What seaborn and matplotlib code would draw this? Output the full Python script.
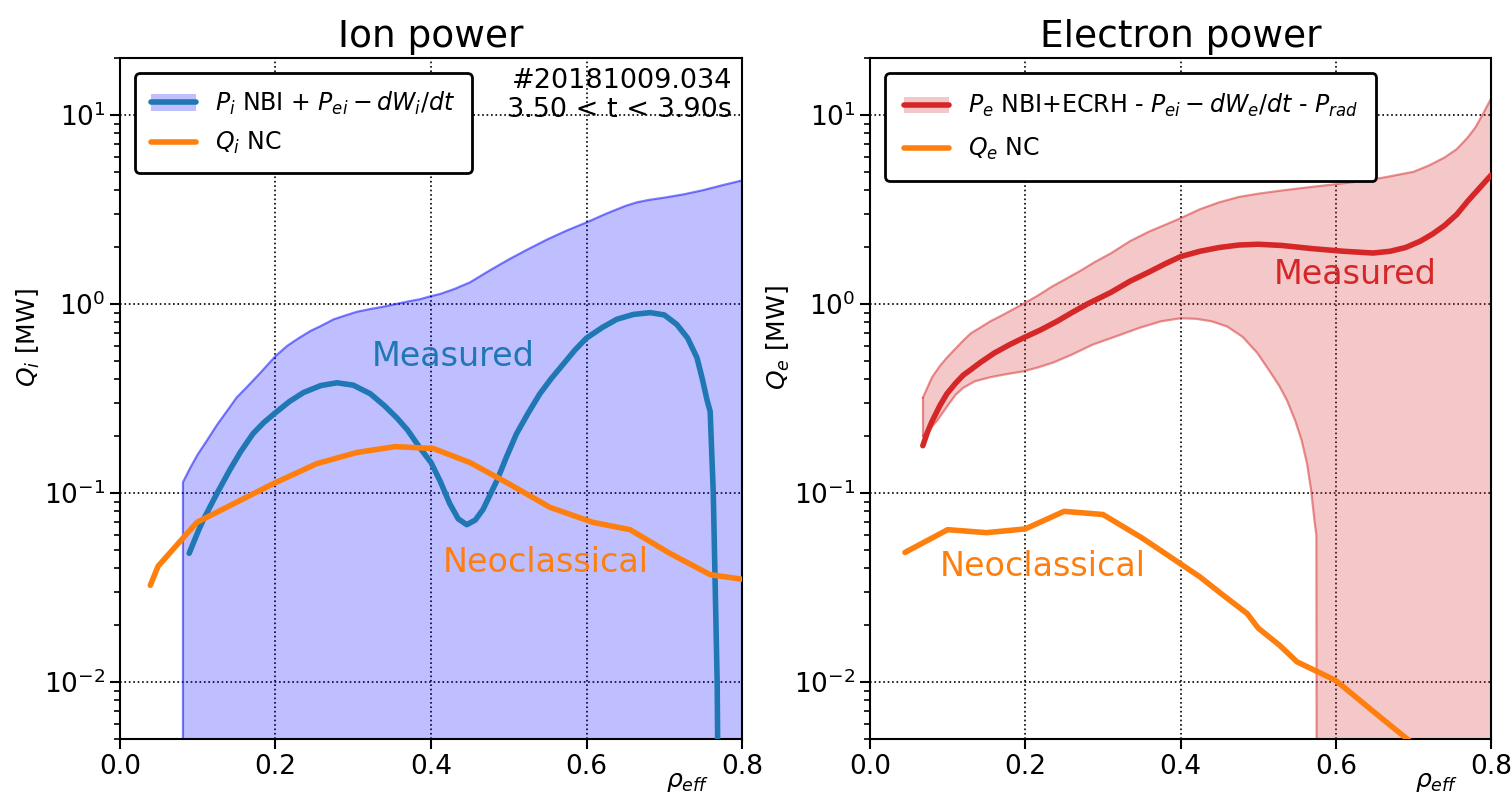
import numpy as np
import pandas as pd
import matplotlib
matplotlib.use("Agg")
import matplotlib.pyplot as plt
import seaborn as sns
from matplotlib.patches import Patch
from matplotlib.lines import Line2D

# ---------------- data ----------------
# Ion panel
ion_env_x = [0.081, 0.09, 0.1, 0.112, 0.125, 0.14, 0.15, 0.165, 0.18, 0.2, 0.215, 0.23, 0.245,
             0.257, 0.275, 0.29, 0.305, 0.322, 0.34, 0.355, 0.37, 0.386, 0.4, 0.412, 0.43,
             0.45, 0.475, 0.5, 0.525, 0.55, 0.575, 0.6, 0.625, 0.65, 0.665, 0.68, 0.7,
             0.725, 0.75, 0.775, 0.8]
ion_env_hi = [0.114, 0.135, 0.16, 0.19, 0.23, 0.28, 0.32, 0.37, 0.43, 0.53, 0.6, 0.66, 0.72,
              0.76, 0.83, 0.87, 0.91, 0.94, 0.97, 1.0, 1.03, 1.06, 1.1, 1.13, 1.2,
              1.3, 1.5, 1.72, 1.95, 2.2, 2.45, 2.7, 3.0, 3.3, 3.45, 3.55, 3.65,
              3.8, 4.0, 4.25, 4.5]
ion_env_lo = [1e-5] * len(ion_env_x)

ion_meas_x = [0.089, 0.1, 0.107, 0.125, 0.141, 0.155, 0.171, 0.185, 0.2, 0.218, 0.236, 0.258,
              0.279, 0.3, 0.322, 0.34, 0.356, 0.37, 0.385, 0.40, 0.412, 0.424, 0.435, 0.446,
              0.457, 0.467, 0.476, 0.485, 0.497, 0.51, 0.525, 0.54, 0.555, 0.57, 0.585, 0.6,
              0.62, 0.639, 0.66, 0.682, 0.70, 0.716, 0.73, 0.742, 0.749, 0.755, 0.759,
              0.763, 0.768, 0.770]
ion_meas_y = [0.048, 0.062, 0.072, 0.10, 0.132, 0.165, 0.206, 0.236, 0.266, 0.305, 0.34, 0.37,
              0.383, 0.372, 0.335, 0.29, 0.25, 0.215, 0.175, 0.145, 0.115, 0.088, 0.073, 0.068,
              0.072, 0.082, 0.098, 0.117, 0.155, 0.206, 0.265, 0.335, 0.405, 0.48, 0.57, 0.66,
              0.75, 0.83, 0.88, 0.9, 0.875, 0.78, 0.66, 0.52, 0.40, 0.31, 0.27,
              0.1, 0.01, 0.001]

ion_nc_x = [0.039, 0.049, 0.099, 0.197, 0.253, 0.305, 0.354, 0.403, 0.45, 0.5, 0.553, 0.608,
            0.656, 0.707, 0.759, 0.8]
ion_nc_y = [0.0325, 0.041, 0.07, 0.112, 0.143, 0.164, 0.176, 0.172, 0.145, 0.112, 0.084, 0.07,
            0.064, 0.048, 0.037, 0.035]

# Electron panel
el_hi_x = [0.068, 0.08, 0.09, 0.099, 0.11, 0.12, 0.13, 0.142, 0.155, 0.17, 0.185, 0.197,
           0.215, 0.235, 0.25, 0.27, 0.29, 0.31, 0.335, 0.36, 0.38, 0.4, 0.425, 0.45,
           0.475, 0.5, 0.53, 0.56, 0.6, 0.63, 0.66, 0.7, 0.72, 0.74, 0.756, 0.77, 0.78,
           0.79, 0.8]
el_hi_y = [0.319, 0.41, 0.47, 0.52, 0.58, 0.64, 0.7, 0.75, 0.81, 0.87, 0.94, 1.0,
           1.1, 1.24, 1.34, 1.49, 1.67, 1.85, 2.15, 2.42, 2.62, 2.84, 3.17, 3.45,
           3.68, 3.83, 3.98, 4.12, 4.3, 4.45, 4.65, 5.0, 5.4, 5.95, 6.6, 7.6, 8.6,
           10.2, 12.2]
el_lo_x = [0.068, 0.075, 0.086, 0.1, 0.11, 0.12, 0.135, 0.155, 0.175, 0.197, 0.215, 0.236,
           0.26, 0.287, 0.315, 0.348, 0.375, 0.4, 0.42, 0.44, 0.46, 0.48, 0.499, 0.515,
           0.527, 0.537, 0.548, 0.556, 0.563, 0.568, 0.573, 0.575, 0.576, 0.8]
el_lo_y = [0.2, 0.215, 0.24, 0.29, 0.33, 0.36, 0.39, 0.41, 0.425, 0.44, 0.46, 0.49,
           0.54, 0.61, 0.67, 0.75, 0.81, 0.84, 0.835, 0.81, 0.76, 0.67, 0.55, 0.44,
           0.37, 0.31, 0.24, 0.19, 0.143, 0.105, 0.069, 0.06, 1e-5, 1e-5]

el_meas_x = [0.068, 0.074, 0.08, 0.09, 0.099, 0.11, 0.12, 0.13, 0.142, 0.16, 0.18, 0.197,
             0.22, 0.241, 0.26, 0.28, 0.31, 0.335, 0.36, 0.38, 0.4, 0.425, 0.45, 0.475,
             0.5, 0.53, 0.571, 0.61, 0.648, 0.67, 0.69, 0.709, 0.725, 0.74, 0.756, 0.77,
             0.785, 0.8]
el_meas_y = [0.178, 0.21, 0.24, 0.29, 0.335, 0.38, 0.42, 0.45, 0.49, 0.55, 0.61, 0.66,
             0.73, 0.81, 0.9, 1.0, 1.15, 1.32, 1.48, 1.63, 1.78, 1.9, 1.99, 2.05,
             2.07, 2.04, 1.96, 1.9, 1.86, 1.9, 1.99, 2.15, 2.35, 2.6, 2.98, 3.5,
             4.1, 4.8]

el_nc_x = [0.045, 0.1, 0.15, 0.2, 0.25, 0.3, 0.35, 0.39, 0.425, 0.454, 0.486, 0.5, 0.528,
           0.55, 0.6, 0.65, 0.7]
el_nc_y = [0.0485, 0.064, 0.0617, 0.0646, 0.080, 0.077, 0.058, 0.045, 0.036, 0.029, 0.023,
           0.0193, 0.0156, 0.0128, 0.0102, 0.0069, 0.0047]

xticks = [0.0, 0.2, 0.4, 0.6, 0.8]
titles = ["Ion power", "Electron power"]
ylabels = [r"$Q_i$ [MW]", r"$Q_e$ [MW]"]
ion_labels = [r"$P_i$ NBI + $P_{ei} - dW_i/dt$", r"$Q_i$ NC"]
el_labels = [r"$P_e$ NBI+ECRH - $P_{ei} - dW_e/dt$ - $P_{rad}$", r"$Q_e$ NC"]
shot_text = "#20181009.034\n3.50 < t < 3.90s"

# ---------------- style ----------------
sns.set_style("ticks")
plt.rcParams["font.family"] = ["DejaVu Sans"]
plt.rcParams["mathtext.fontset"] = "dejavusans"
for k in ["text.color", "axes.labelcolor", "xtick.color", "ytick.color", "axes.edgecolor"]:
    plt.rcParams[k] = "black"

C0 = "#1f77b4"
C1 = "#ff7f0e"
C3 = "#d62728"
blue_face = (0.0, 0.0, 1.0, 0.25)
blue_edge = (0.0, 0.0, 1.0, 0.5)
red_face = (0.839, 0.153, 0.157, 0.25)
red_edge = (0.839, 0.153, 0.157, 0.5)
LW = 4.0

fig = plt.figure(figsize=(15.11, 7.99), dpi=100)
ax1 = fig.add_axes([0.0794, 0.0751, 0.4117, 0.8523])
ax2 = fig.add_axes([0.5758, 0.0751, 0.4110, 0.8523])

for ax in (ax1, ax2):
    ax.set_yscale("log")

# Ion panel
ax1.fill_between(ion_env_x, ion_env_lo, ion_env_hi, facecolor=blue_face,
                 edgecolor=blue_edge, linewidth=1.6, zorder=1)
sns.lineplot(data=pd.DataFrame({"x": ion_meas_x, "y": ion_meas_y}), x="x", y="y",
             ax=ax1, color=C0, linewidth=LW, sort=False, estimator=None, zorder=3)
sns.lineplot(data=pd.DataFrame({"x": ion_nc_x, "y": ion_nc_y}), x="x", y="y",
             ax=ax1, color=C1, linewidth=LW, sort=False, estimator=None, zorder=4)
ax1.text(0.428, 0.53, "Measured", color=C0, fontsize=24, ha="center", va="center")
ax1.text(0.548, 0.043, "Neoclassical", color=C1, fontsize=24, ha="center", va="center")
ax1.text(0.984, 0.985, shot_text, transform=ax1.transAxes, ha="right", va="top",
         fontsize=19.5, multialignment="right", linespacing=1.15)

# Electron panel
env_x = sorted(set(el_hi_x) | set(el_lo_x))
hi_i = np.interp(env_x, el_hi_x, el_hi_y)
lo_i = np.interp(env_x, el_lo_x, el_lo_y)
ax2.fill_between(env_x, lo_i, hi_i, facecolor=red_face, edgecolor="none", zorder=1)
ax2.plot(el_hi_x, el_hi_y, color=red_edge, linewidth=1.6, zorder=2)
ax2.plot(el_lo_x, el_lo_y, color=red_edge, linewidth=1.6, zorder=2)
ax2.plot([el_hi_x[0], el_lo_x[0]], [el_hi_y[0], el_lo_y[0]], color=red_edge,
         linewidth=1.6, zorder=2)
sns.lineplot(data=pd.DataFrame({"x": el_meas_x, "y": el_meas_y}), x="x", y="y",
             ax=ax2, color=C3, linewidth=LW, sort=False, estimator=None, zorder=3)
sns.lineplot(data=pd.DataFrame({"x": el_nc_x, "y": el_nc_y}), x="x", y="y",
             ax=ax2, color=C1, linewidth=LW, sort=False, estimator=None, zorder=4)
ax2.text(0.625, 1.44, "Measured", color=C3, fontsize=24, ha="center", va="center")
ax2.text(0.223, 0.041, "Neoclassical", color=C1, fontsize=24, ha="center", va="center")

for ax, title, ylab in zip((ax1, ax2), titles, ylabels):
    ax.set_xlim(0, 0.8)
    ax.set_ylim(5e-3, 20)
    ax.set_xticks(xticks)
    ax.set_xticklabels([f"{t:.1f}" for t in xticks])
    ax.set_title(title, fontsize=27, pad=8, color="black")
    ax.set_ylabel(ylab, fontsize=18)
    ax.yaxis.set_label_coords(-0.125, 0.59)
    ax.set_xlabel(r"$\rho_{eff}$", fontsize=18)
    ax.xaxis.set_label_coords(0.913, -0.045)
    ax.tick_params(axis="both", which="major", labelsize=19, length=7, width=1.5,
                   direction="out", color="black", labelcolor="black")
    ax.tick_params(axis="y", which="minor", length=4, width=1.2, direction="out")
    ax.grid(True, which="major", linestyle=":", color="black", linewidth=1.2)
    ax.grid(False, which="minor")
    for s in ax.spines.values():
        s.set_visible(True)
        s.set_linewidth(1.5)
        s.set_color("black")

h1 = [(Patch(facecolor=blue_face, edgecolor="none"), Line2D([], [], color=C0, lw=LW)),
      Line2D([], [], color=C1, lw=LW)]
leg1 = ax1.legend(h1, ion_labels, loc="upper left", fontsize=17, frameon=True,
                  framealpha=1, edgecolor="black", borderpad=0.7, labelspacing=0.55,
                  handlelength=1.9, bbox_to_anchor=(0.005, 0.995))
leg1.get_frame().set_linewidth(2)

h2 = [(Patch(facecolor=red_face, edgecolor="none"), Line2D([], [], color=C3, lw=LW)),
      Line2D([], [], color=C1, lw=LW)]
leg2 = ax2.legend(h2, el_labels, loc="upper left", fontsize=17, frameon=True,
                  framealpha=1, edgecolor="black", borderpad=0.8, labelspacing=0.7,
                  handlelength=1.9, bbox_to_anchor=(0.005, 0.995))
leg2.get_frame().set_linewidth(2)

fig.savefig("out.png", dpi=100)
